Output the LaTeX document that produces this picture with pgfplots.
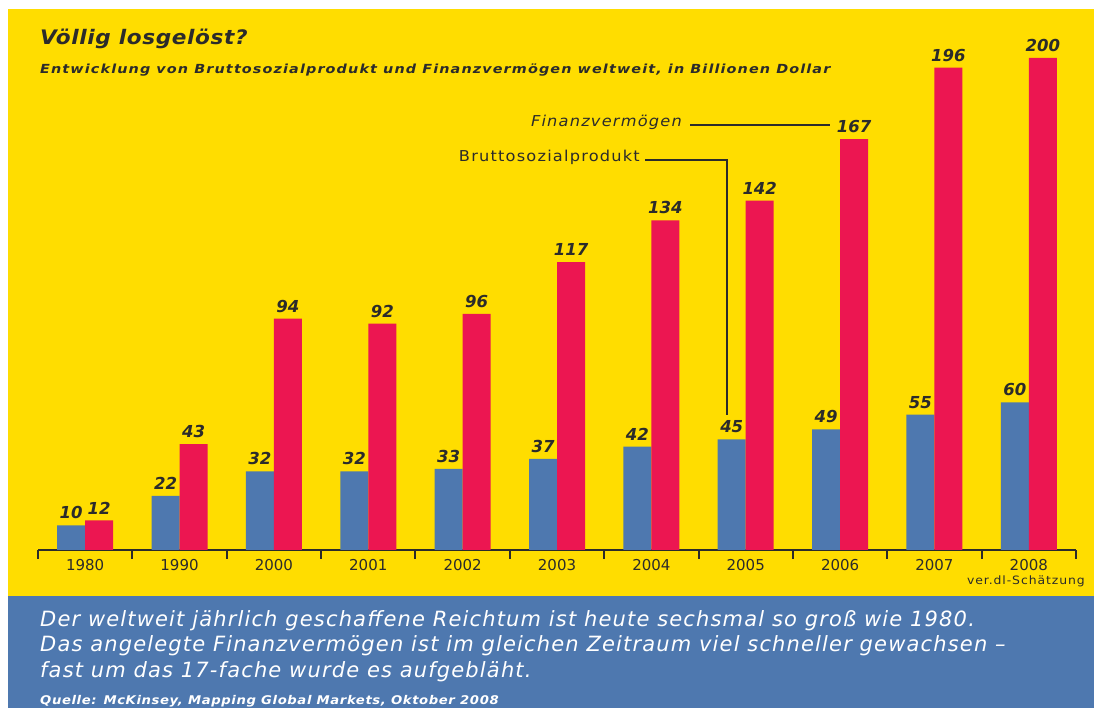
\documentclass[border=0pt]{standalone}
\usepackage{pgfplots}
\pgfplotsset{compat=1.18}
\usepackage{fontspec}
\setmainfont{DejaVu Sans}
\newfontfamily\titlefont[FakeStretch=1.08, LetterSpace=3]{DejaVu Sans}
\newfontfamily\subfont[FakeStretch=1.15, LetterSpace=9]{DejaVu Sans}
\newfontfamily\widefont[FakeStretch=1.08, LetterSpace=8]{DejaVu Sans}
\newfontfamily\bandfont[LetterSpace=5.5]{DejaVu Sans}
\newfontfamily\srcfont[FakeStretch=1.1, LetterSpace=5]{DejaVu Sans}
\definecolor{gelb}{HTML}{FFDD00}
\definecolor{rot}{HTML}{EC1651}
\definecolor{blau}{HTML}{4E78AF}
\definecolor{dunkel}{HTML}{2B2B2B}

\begin{document}
\begin{tikzpicture}[x=1pt,y=1pt]
% page backgrounds (1pt = 1px of the reference)
\fill[white] (0,0) rectangle (1094,708);
\fill[gelb] (8,112) rectangle (1094,699);
\fill[blau] (8,0) rectangle (1094,112);

\begin{axis}[
  at={(38pt,158pt)}, anchor=south west,
  width=1038pt, height=530pt, scale only axis,
  xmin=-0.5, xmax=10.5, ymin=0, ymax=215.4,
  hide y axis,
  axis x line*=bottom,
  x axis line style={line width=2.5pt, dunkel},
  ybar=0pt, bar width=28pt,
  xtick={0,...,10},
  xticklabels={1980,1990,2000,2001,2002,2003,2004,2005,2006,2007,2008},
  major x tick style={draw=none},
  minor xtick={-0.5,0.5,...,10.5},
  xtick align=outside,
  minor tick length=9pt,
  minor x tick style={line width=2pt, dunkel},
  xticklabel style={font=\fontsize{15}{15}\selectfont, text=dunkel, inner sep=0pt, anchor=base, yshift=-16pt},
  /pgf/number format/assume math mode=true,
  nodes near coords,
  nodes near coords style={font=\bfseries\itshape\fontsize{16.5}{16.5}\selectfont, text=dunkel, inner sep=0pt, yshift=6pt},
  clip=false,
]
% Bruttosozialprodukt
\addplot[fill=blau, draw=none] coordinates {
  (0,10) (1,22) (2,32) (3,32) (4,33) (5,37) (6,42) (7,45) (8,49) (9,55) (10,60)
};
% Finanzvermoegen
\addplot[fill=rot, draw=none] coordinates {
  (0,12) (1,43) (2,94) (3,92) (4,96) (5,117) (6,134) (7,142) (8,167) (9,196) (10,200)
};
\end{axis}

% titles
\node[anchor=base west, inner sep=0pt, text=dunkel,
  font=\titlefont\bfseries\itshape\fontsize{20}{20}\selectfont] at (40,663) {Völlig losgelöst?};
\node[anchor=base west, inner sep=0pt, text=dunkel,
  font=\subfont\bfseries\itshape\fontsize{12.5}{12.5}\selectfont] at (40,634)
  {Entwicklung von Bruttosozialprodukt und Finanzvermögen weltweit, in Billionen Dollar};

% series annotations
\node[anchor=east, inner sep=0pt, text=dunkel, font=\widefont\itshape\fontsize{15}{15}\selectfont] at (682,586) {Finanzvermögen};
\draw[line width=1.8pt, dunkel] (690,583) -- (830,583);
\node[anchor=east, inner sep=0pt, text=dunkel, font=\widefont\fontsize{15}{15}\selectfont] at (640,551) {Bruttosozialprodukt};
\draw[line width=1.8pt, dunkel] (645,548) -- (727,548) -- (727,293);

\node[anchor=base east, inner sep=0pt, text=dunkel, font=\widefont\fontsize{11.5}{11.5}\selectfont] at (1085,123) {ver.dl-Schätzung};

% blue band text
\begin{scope}[every node/.style={anchor=base west, inner sep=0pt, text=white}]
\node[font=\bandfont\itshape\fontsize{21}{21}\selectfont] at (40,81) {Der weltweit jährlich geschaffene Reichtum ist heute sechsmal so groß wie 1980.};
\node[font=\bandfont\itshape\fontsize{21}{21}\selectfont] at (40,56) {Das angelegte Finanzvermögen ist im gleichen Zeitraum viel schneller gewachsen –};
\node[font=\bandfont\itshape\fontsize{21}{21}\selectfont] at (40,30) {fast um das 17-fache wurde es aufgebläht.};
\node[font=\srcfont\bfseries\itshape\fontsize{12}{12}\selectfont] at (40,3) {Quelle: McKinsey, Mapping Global Markets, Oktober 2008};
\end{scope}
\end{tikzpicture}
\end{document}
